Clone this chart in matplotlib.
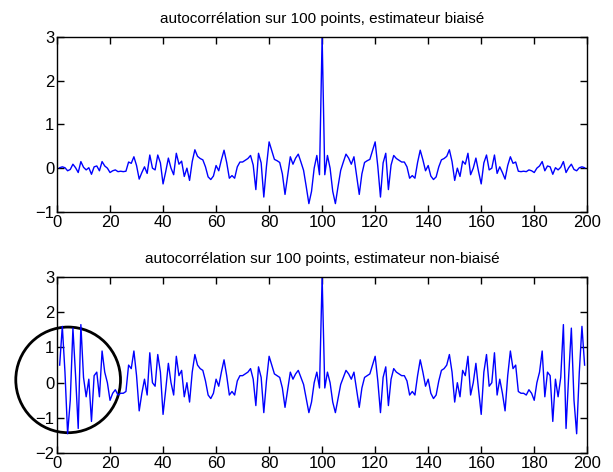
import numpy as np
import matplotlib
matplotlib.use("Agg")
import matplotlib.pyplot as plt
from matplotlib.patches import Ellipse

# =========================
# DONNEES
# =========================
# l'autocorrélation est symétrique : on lit les retards 1..99,
# puis on reconstruit la courbe complète autour du pic (retard 0)
pic = 3.0

biaise_demi = [
    -0.15, 0.29, 0.00, -0.53, -0.81, -0.42, -0.05, 0.14, 0.32, 0.23,
    0.09, 0.26, -0.17, -0.60, -0.13, 0.13, 0.17, 0.20, 0.40, 0.60,
    0.04, -0.66, 0.12, 0.34, -0.49, 0.07, 0.29, 0.22, 0.18, 0.14,
    0.14, 0.03, -0.23, -0.17, -0.23, 0.13, 0.41, 0.19, -0.06, 0.06,
    -0.18, -0.26, -0.20, 0.03, 0.19, 0.22, 0.27, 0.42, 0.15, -0.28,
    0.00, -0.19, 0.16, 0.09, 0.34, -0.15, 0.00, 0.23, -0.08, -0.36,
    0.12, 0.30, -0.04, 0.00, 0.30, -0.12, 0.03, -0.10, -0.25, 0.06,
    0.26, 0.11, 0.14, -0.07, -0.08, -0.07, -0.08, -0.04, -0.06, -0.10,
    0.00, 0.05, 0.15, -0.06, 0.05, 0.03, -0.14, 0.01, -0.04, 0.02,
    0.15, -0.10, 0.01, 0.09, -0.03, -0.06, 0.01, 0.03, 0.01,
]

non_biaise_demi = [
    -0.15, 0.30, 0.00, -0.55, -0.85, -0.45, -0.05, 0.15, 0.35, 0.25,
    0.10, 0.30, -0.20, -0.70, -0.15, 0.15, 0.20, 0.25, 0.50, 0.75,
    0.05, -0.85, 0.15, 0.45, -0.65, 0.10, 0.40, 0.30, 0.25, 0.20,
    0.20, 0.05, -0.35, -0.25, -0.35, 0.20, 0.65, 0.30, -0.10, 0.10,
    -0.30, -0.45, -0.35, 0.05, 0.35, 0.40, 0.50, 0.80, 0.30, -0.55,
    0.00, -0.40, 0.35, 0.20, 0.75, -0.35, 0.00, 0.55, -0.20, -0.90,
    0.30, 0.80, -0.10, 0.00, 0.85, -0.35, 0.10, -0.30, -0.80, 0.20,
    0.90, 0.40, 0.50, -0.25, -0.30, -0.30, -0.35, -0.20, -0.30, -0.50,
    0.00, 0.30, 0.90, -0.40, 0.30, 0.20, -1.10, 0.10, -0.40, 0.15,
    1.65, -1.30, 0.20, 1.55, -0.50, -1.45, 0.30, 1.60, 0.50,
]

titres = [
    "autocorrélation sur 100 points, estimateur biaisé",
    "autocorrélation sur 100 points, estimateur non-biaisé",
]
yticks_haut = [-1, 0, 1, 2, 3]
yticks_bas = [-2, -1, 0, 1, 2, 3]
xticks = list(range(0, 201, 20))


def courbe_complete(demi):
    demi = np.array(demi)
    return np.concatenate([demi[::-1], [pic], demi])


biaise = courbe_complete(biaise_demi)
non_biaise = courbe_complete(non_biaise_demi)
x = np.arange(1, len(biaise) + 1)

# =========================
# GRAPHIQUE
# =========================
plt.rcParams["font.family"] = ["Liberation Sans", "DejaVu Sans"]

fig = plt.figure(figsize=(6.13, 4.72), dpi=100)
ax1 = fig.add_axes([0.093, 0.551, 0.865, 0.371])
ax2 = fig.add_axes([0.093, 0.040, 0.865, 0.373])

for ax, y, titre, yt in [
    (ax1, biaise, titres[0], yticks_haut),
    (ax2, non_biaise, titres[1], yticks_bas),
]:
    ax.plot(x, y, color="#0000ff", lw=1.0)
    ax.set_xlim(0, 200)
    ax.set_ylim(yt[0], yt[-1])
    ax.set_xticks(xticks)
    ax.set_yticks(yt)
    ax.set_title(titre, fontsize=11, pad=10)
    ax.tick_params(direction="in", top=True, right=True, length=5,
                   labelsize=12, width=1, pad=2)
    for s in ax.spines.values():
        s.set_linewidth(1)

# cercle autour du début de la courbe non biaisée
cercle = Ellipse((4.2, 0.08), 39.5, 3.0, fill=False, edgecolor="black",
                 lw=2, clip_on=False)
ax2.add_patch(cercle)

fig.savefig("out.png", dpi=100)
